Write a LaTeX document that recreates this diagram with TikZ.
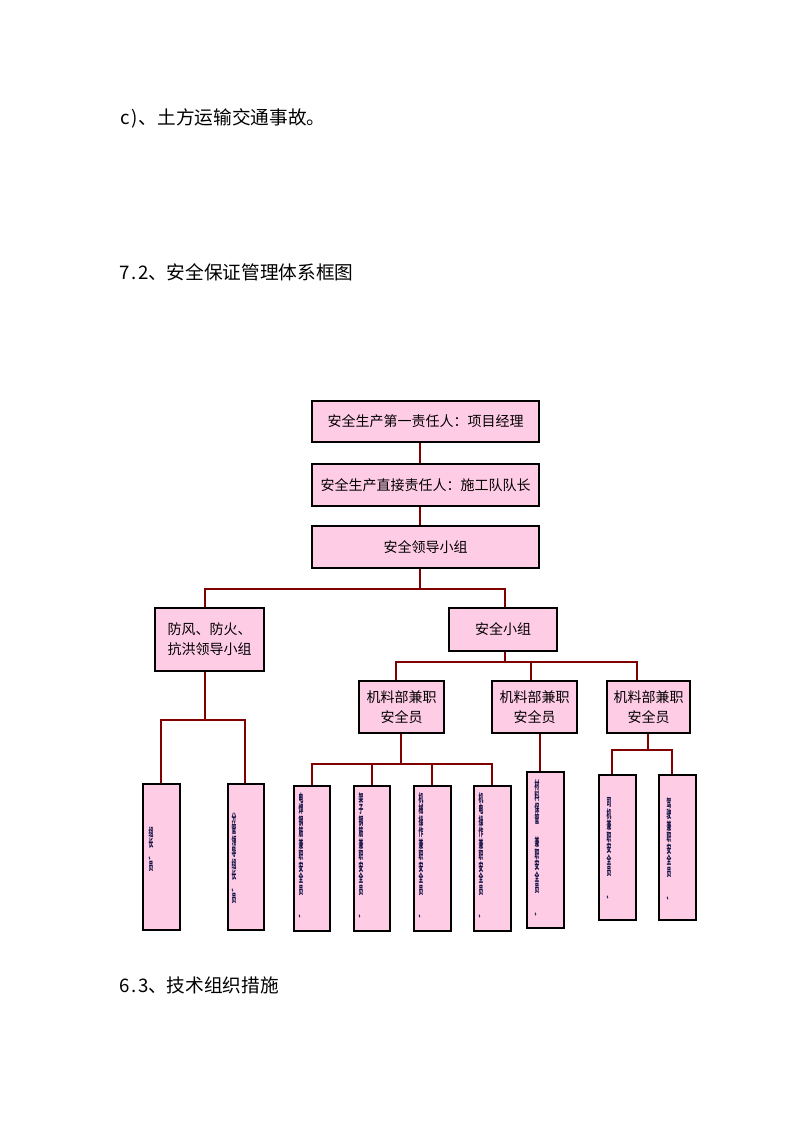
\documentclass[tikz,border=0pt]{standalone}
\usepackage{fontspec}
\setmainfont{Noto Sans CJK SC}
\usepackage{graphicx}
\usetikzlibrary{calc}
\definecolor{boxpink}{RGB}{255,204,230}
\definecolor{linered}{RGB}{128,0,0}
\definecolor{slivercol}{RGB}{20,20,70}
\newcommand\hw[1]{\makebox[0.5em][c]{#1}}
\ExplSyntaxOn
\NewDocumentCommand\vsliver{m}{\vbox{\baselineskip=8.6pt\lineskiplimit=-20pt \tl_map_inline:nn{#1}{\hbox{\scalebox{0.42}[1]{##1}}}}}
\ExplSyntaxOff
\begin{document}
\begin{tikzpicture}[x=0.75pt,y=-0.75pt,
  box/.style={draw=black, line width=0.8pt, fill=boxpink, inner sep=0pt, align=center, font=\fontsize{10.5}{15}\selectfont},
  conn/.style={draw=linered, line width=2pt},
  head/.style={anchor=west, inner sep=0pt, font=\fontsize{14}{16}\selectfont},
  sliver/.style={anchor=north west, inner sep=0pt, font=\fontsize{8.5}{8.6}\selectfont\bfseries, text=slivercol}]
\fill[white] (0,0) rectangle (794,1123);
\useasboundingbox (0,0) rectangle (794,1123);

% headings
\node[head] (h1) at (120,118) {\hw{c}\hw{)}、土方运输交通事故。};
\node[head] (h2) at (120,272) {\hw{7}\hw{.}\hw{2}、安全保证管理体系框图};
\node[head] (h3) at (120,985) {\hw{6}\hw{.}\hw{3}、技术组织措施};

% main boxes
\node[box, minimum width=227*0.75pt, minimum height=41*0.75pt] (b1) at (425.5,421.5) {安全生产第一责任人：项目经理};
\node[box, minimum width=227*0.75pt, minimum height=42*0.75pt] (b2) at (425.5,485) {安全生产直接责任人：施工队队长};
\node[box, minimum width=227*0.75pt, minimum height=42*0.75pt] (b3) at (425.5,547) {安全领导小组};
\node[box, minimum width=109*0.75pt, minimum height=63*0.75pt] (b4) at (209.5,639.5) {防风、防火、\\抗洪领导小组};
\node[box, minimum width=108*0.75pt, minimum height=43*0.75pt] (b5) at (503,629.5) {安全小组};
\node[box, minimum width=85*0.75pt, minimum height=52*0.75pt] (m1) at (401.5,707) {机料部兼职\\安全员};
\node[box, minimum width=85*0.75pt, minimum height=52*0.75pt] (m2) at (534.5,707) {机料部兼职\\安全员};
\node[box, minimum width=83*0.75pt, minimum height=52*0.75pt] (m3) at (648.5,707) {机料部兼职\\安全员};

% tall boxes
\node[box, minimum width=37*0.75pt, minimum height=146*0.75pt] (A) at (161.5,857) {};
\node[box, minimum width=36*0.75pt, minimum height=146*0.75pt] (B) at (246,857) {};
\node[box, minimum width=36*0.75pt, minimum height=145*0.75pt] (C) at (312,858.5) {};
\node[box, minimum width=36*0.75pt, minimum height=145*0.75pt] (D) at (372,858.5) {};
\node[box, minimum width=37*0.75pt, minimum height=145*0.75pt] (E) at (432.5,858.5) {};
\node[box, minimum width=37*0.75pt, minimum height=145*0.75pt] (F) at (492.5,858.5) {};
\node[box, minimum width=37*0.75pt, minimum height=156*0.75pt] (G) at (545.5,850) {};
\node[box, minimum width=37*0.75pt, minimum height=145*0.75pt] (H) at (617.5,847.5) {};
\node[box, minimum width=37*0.75pt, minimum height=145*0.75pt] (I) at (677.5,847.5) {};

% clipped vertical texts
\node[sliver] (tA) at ($(A.north west)+(6,43)$) {\vsliver{组长、员}};
\node[sliver] (tB) at ($(B.north west)+(4,29)$) {\vsliver{分管领导组长、员}};
\node[sliver] (tC) at ($(C.north west)+(5,7)$) {\vsliver{电焊钢筋兼职安全员　、}};
\node[sliver] (tD) at ($(D.north west)+(5,7)$) {\vsliver{架子钢筋兼职安全员　、}};
\node[sliver] (tE) at ($(E.north west)+(5,7)$) {\vsliver{机械操作兼职安全员　、}};
\node[sliver] (tF) at ($(F.north west)+(5,7)$) {\vsliver{机电操作兼职安全员　、}};
\node[sliver] (tG) at ($(G.north west)+(8,8)$) {\vsliver{材料保管　兼职安全员　、}};
\node[sliver] (tH) at ($(H.north west)+(8,23)$) {\vsliver{司机兼职安全员　、}};
\node[sliver] (tI) at ($(I.north west)+(8,23)$) {\vsliver{驾驶兼职安全员　、}};

% junction coordinates
\coordinate (j1) at (420,589);
\coordinate (j1l) at (205,589);
\coordinate (j1r) at (505,589);
\coordinate (j2) at (505,662);
\coordinate (j2l) at (396,662);
\coordinate (j2m) at (531,662);
\coordinate (j2r) at (637,662);
\coordinate (j3) at (401,764);
\coordinate (j3l) at (312,764);
\coordinate (j3a) at (372,764);
\coordinate (j3b) at (432,764);
\coordinate (j3r) at (492,764);
\coordinate (j4) at (540,750);
\coordinate (j5) at (648,750);
\coordinate (j5l) at (612,750);
\coordinate (j5r) at (672,750);
\coordinate (j6) at (205,720);
\coordinate (j6l) at (161,720);
\coordinate (j6r) at (245,720);

% connectors
\draw[conn] (b1.south -| j1) -- (b2.north -| j1);
\draw[conn] (b2.south -| j1) -- (b3.north -| j1);
\draw[conn] (b3.south -| j1) -- (j1);
\draw[conn] (b4.north -| j1l) -- (j1l) -- (j1r) -- (b5.north -| j1r);
\draw[conn] (b5.south -| j2) -- (j2);
\draw[conn] (m1.north -| j2l) -- (j2l) -- (j2r) -- (m3.north -| j2r);
\draw[conn] (j2m) -- (m2.north -| j2m);
\draw[conn] (m1.south -| j3) -- (j3);
\draw[conn] (C.north -| j3l) -- (j3l) -- (j3r) -- (F.north -| j3r);
\draw[conn] (j3a) -- (D.north -| j3a);
\draw[conn] (j3b) -- (E.north -| j3b);
\draw[conn] (m2.south -| j4) -- (G.north -| j4);
\draw[conn] (m3.south -| j5) -- (j5);
\draw[conn] (H.north -| j5l) -- (j5l) -- (j5r) -- (I.north -| j5r);
\draw[conn] (b4.south -| j6) -- (j6);
\draw[conn] (A.north -| j6l) -- (j6l) -- (j6r) -- (B.north -| j6r);
\end{tikzpicture}
\end{document}
